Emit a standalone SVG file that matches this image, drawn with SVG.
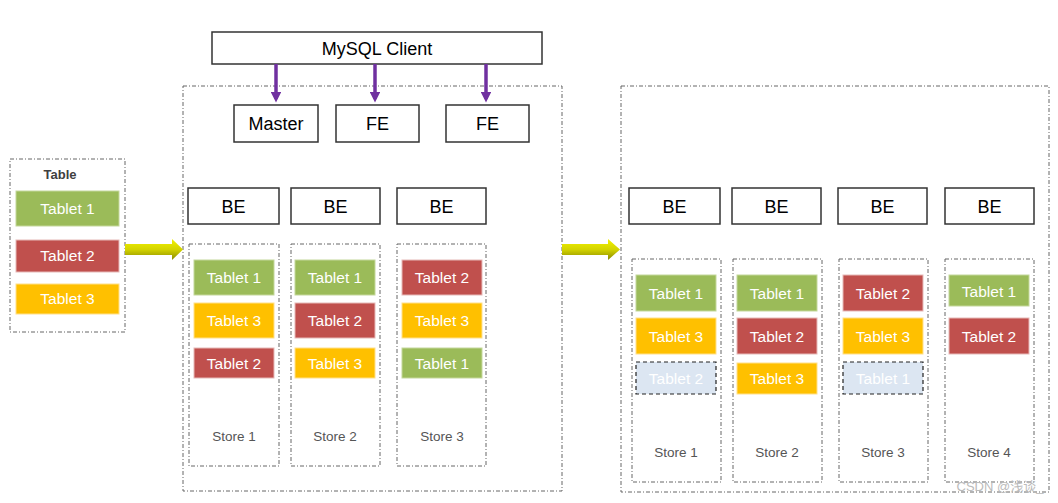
<svg xmlns="http://www.w3.org/2000/svg" width="1058" height="503" viewBox="0 0 1058 503">
<style>
.cont{fill:none;stroke:#666;stroke-width:1;stroke-dasharray:4 2 1 2}
.box{fill:#fff;stroke:#333;stroke-width:1.5}
.bt{font-family:"Liberation Sans",Arial,sans-serif;font-size:18px;fill:#000;text-anchor:middle}
.tt{font-family:"Liberation Sans",Arial,sans-serif;font-size:15.5px;fill:#fff;text-anchor:middle}
.st{font-family:"Liberation Sans",Arial,sans-serif;font-size:13.5px;fill:#555;text-anchor:middle}
.g{fill:#9BBB59;stroke:#C4D79B;stroke-width:1}
.r{fill:#C0504D;stroke:#E6B9B8;stroke-width:1}
.y{fill:#FFC000;stroke:#FFE08A;stroke-width:1}
.ghost{fill:#DCE6F2;stroke:#222;stroke-width:1.2;stroke-dasharray:4 3}
.purple{stroke:#7030A0;stroke-width:3.5;fill:none}
</style>
<defs>
<linearGradient id="yg" x1="0" y1="0" x2="0" y2="1">
<stop offset="0" stop-color="#F2F200"/>
<stop offset="0.5" stop-color="#D4D400"/>
<stop offset="1" stop-color="#8A8A00"/>
</linearGradient>
<marker id="pa" markerWidth="3" markerHeight="3" refX="2" refY="1.5" orient="auto" markerUnits="strokeWidth">
<path d="M0,0 L3,1.5 L0,3 z" fill="#7030A0"/>
</marker>
</defs>
<rect width="1058" height="503" fill="#fff"/>

<g id="table">
<rect class="cont" x="10" y="159" width="115" height="173"/>
<text x="60" y="179" font-family="Liberation Sans,Arial,sans-serif" font-size="13" font-weight="bold" fill="#404040" text-anchor="middle">Table</text>
<rect class="g" x="16" y="191" width="103" height="35"/>
<text class="tt" x="67.5" y="214">Tablet 1</text>
<rect class="r" x="16" y="240" width="103" height="32"/>
<text class="tt" x="67.5" y="261">Tablet 2</text>
<rect class="y" x="16" y="284" width="103" height="30"/>
<text class="tt" x="67.5" y="304">Tablet 3</text>
</g>

<g id="cluster1">
<rect class="cont" x="183" y="86" width="379" height="405"/>
</g>
<g id="cluster2">
<rect class="cont" x="621" y="86" width="428" height="406"/>
</g>

<g id="mysql-client">
<rect class="box" x="212" y="32" width="330" height="32"/>
<text class="bt" x="377" y="55">MySQL Client</text>
</g>
<g id="master">
<rect class="box" x="234" y="105" width="84" height="37"/>
<text class="bt" x="276" y="130">Master</text>
</g>
<g id="fe1">
<rect class="box" x="336" y="105" width="83" height="37"/>
<text class="bt" x="377.5" y="130">FE</text>
</g>
<g id="fe2">
<rect class="box" x="446" y="105" width="83" height="37"/>
<text class="bt" x="487.5" y="130">FE</text>
</g>

<g id="be1"><rect class="box" x="188" y="188" width="91" height="36"/><text class="bt" x="233.5" y="213">BE</text></g>
<g id="be2"><rect class="box" x="291" y="188" width="89" height="36"/><text class="bt" x="335.5" y="213">BE</text></g>
<g id="be3"><rect class="box" x="397" y="188" width="89" height="36"/><text class="bt" x="441.5" y="213">BE</text></g>

<g id="store1">
<rect class="cont" x="189" y="244" width="90" height="222"/>
<rect class="g" x="194" y="260" width="80" height="35"/><text class="tt" x="234" y="283">Tablet 1</text>
<rect class="y" x="194" y="303" width="80" height="35"/><text class="tt" x="234" y="326">Tablet 3</text>
<rect class="r" x="194" y="348" width="80" height="30"/><text class="tt" x="234" y="369">Tablet 2</text>
<text class="st" x="234" y="441">Store 1</text>
</g>
<g id="store2">
<rect class="cont" x="291" y="244" width="89" height="222"/>
<rect class="g" x="295" y="260" width="80" height="35"/><text class="tt" x="335" y="283">Tablet 1</text>
<rect class="r" x="295" y="303" width="80" height="35"/><text class="tt" x="335" y="326">Tablet 2</text>
<rect class="y" x="295" y="348" width="80" height="30"/><text class="tt" x="335" y="369">Tablet 3</text>
<text class="st" x="335" y="441">Store 2</text>
</g>
<g id="store3">
<rect class="cont" x="397" y="244" width="89" height="222"/>
<rect class="r" x="402" y="260" width="80" height="35"/><text class="tt" x="442" y="283">Tablet 2</text>
<rect class="y" x="402" y="303" width="80" height="35"/><text class="tt" x="442" y="326">Tablet 3</text>
<rect class="g" x="402" y="348" width="80" height="30"/><text class="tt" x="442" y="369">Tablet 1</text>
<text class="st" x="442" y="441">Store 3</text>
</g>

<g id="be4"><rect class="box" x="629" y="188" width="91" height="36"/><text class="bt" x="674.5" y="213">BE</text></g>
<g id="be5"><rect class="box" x="732" y="188" width="89" height="36"/><text class="bt" x="776.5" y="213">BE</text></g>
<g id="be6"><rect class="box" x="838" y="188" width="89" height="36"/><text class="bt" x="882.5" y="213">BE</text></g>
<g id="be7"><rect class="box" x="945" y="188" width="89" height="36"/><text class="bt" x="989.5" y="213">BE</text></g>

<g id="rstore1">
<rect class="cont" x="632" y="259" width="89" height="223"/>
<rect class="g" x="636" y="275" width="80" height="36"/><text class="tt" x="676" y="299">Tablet 1</text>
<rect class="y" x="636" y="318" width="80" height="36"/><text class="tt" x="676" y="342">Tablet 3</text>
<rect class="ghost" x="636" y="362" width="80" height="32"/><text class="tt" x="676" y="384">Tablet 2</text>
<text class="st" x="676" y="457">Store 1</text>
</g>
<g id="rstore2">
<rect class="cont" x="733" y="259" width="89" height="223"/>
<rect class="g" x="737" y="275" width="80" height="36"/><text class="tt" x="777" y="299">Tablet 1</text>
<rect class="r" x="737" y="318" width="80" height="36"/><text class="tt" x="777" y="342">Tablet 2</text>
<rect class="y" x="737" y="363" width="80" height="31"/><text class="tt" x="777" y="384">Tablet 3</text>
<text class="st" x="777" y="457">Store 2</text>
</g>
<g id="rstore3">
<rect class="cont" x="839" y="259" width="89" height="223"/>
<rect class="r" x="843" y="275" width="80" height="36"/><text class="tt" x="883" y="299">Tablet 2</text>
<rect class="y" x="843" y="318" width="80" height="36"/><text class="tt" x="883" y="342">Tablet 3</text>
<rect class="ghost" x="843" y="362" width="80" height="32"/><text class="tt" x="883" y="384">Tablet 1</text>
<text class="st" x="883" y="457">Store 3</text>
</g>
<g id="rstore4">
<rect class="cont" x="945" y="259" width="89" height="223"/>
<rect class="g" x="949" y="275" width="80" height="31"/><text class="tt" x="989" y="297">Tablet 1</text>
<rect class="r" x="949" y="318" width="80" height="36"/><text class="tt" x="989" y="342">Tablet 2</text>
<text class="st" x="989" y="457">Store 4</text>
</g>

<g id="connectors">
<line class="purple" x1="276" y1="64" x2="276" y2="99" marker-end="url(#pa)"/>
<line class="purple" x1="375" y1="64" x2="375" y2="99" marker-end="url(#pa)"/>
<line class="purple" x1="486" y1="64" x2="486" y2="99" marker-end="url(#pa)"/>
<path d="M125,244 L172,244 L172,239 L183,249.5 L172,260 L172,255 L125,255 z" fill="url(#yg)"/>
<path d="M562,244 L608,244 L608,239 L620,249.5 L608,260 L608,255 L562,255 z" fill="url(#yg)"/>
</g>

<text x="1000" y="491" font-family="'Liberation Sans','Noto Sans CJK SC',sans-serif" font-size="13" fill="#BBB" text-anchor="middle">CSDN @浅谈_</text>
</svg>
